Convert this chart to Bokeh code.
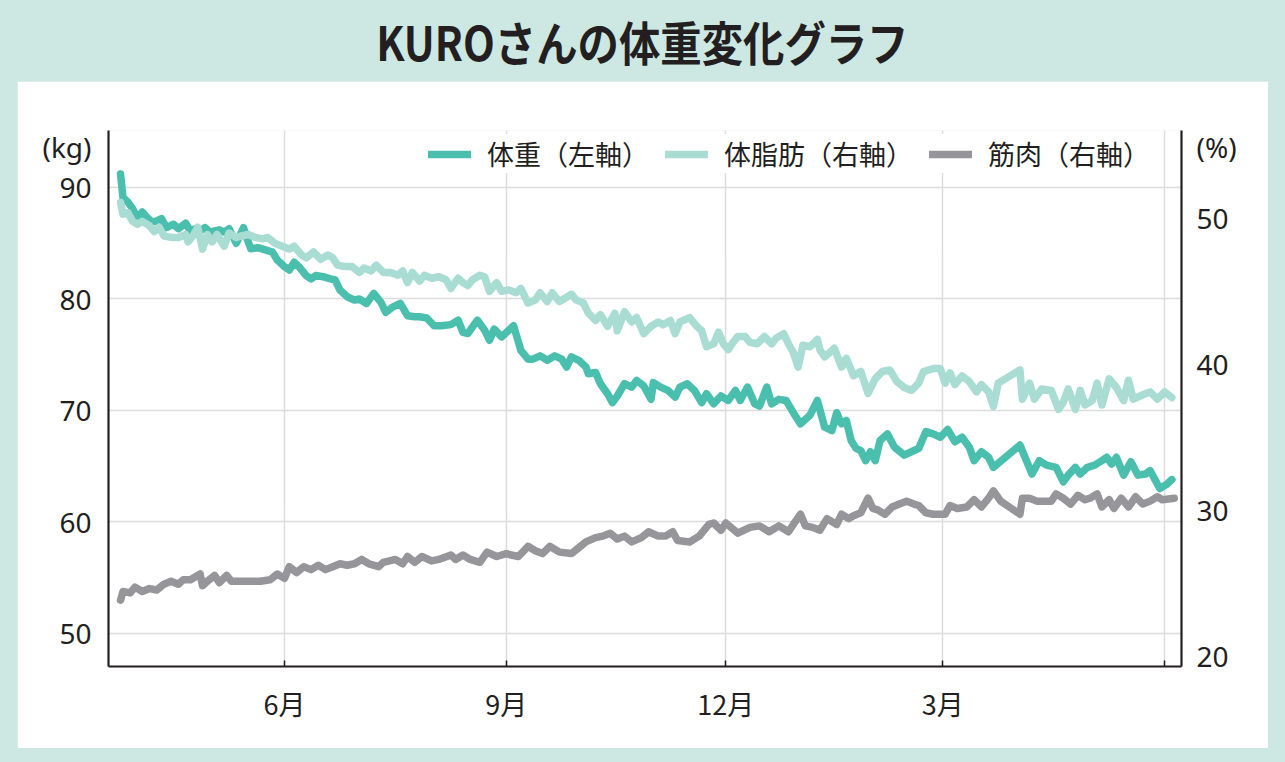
from bokeh.plotting import figure
from bokeh.models import (Range1d, LinearAxis, FixedTicker, Legend, LegendItem, Div)
from bokeh.layouts import column
from bokeh.embed import file_html
from bokeh.resources import INLINE

FONT = "Noto Sans CJK JP"
NUM_FONT = "Noto Sans"
INK = "#231f20"
MINT = "#cde8e2"
C_W = "#4bbfad"
C_F = "#a9ddd4"
C_M = "#96969a"

TITLE = "KUROさんの体重変化グラフ"
LEG_W = "体重（左軸）"
LEG_F = "体脂肪（右軸）"
LEG_M = "筋肉（右軸）"
UNIT_L = "(kg)"
UNIT_R = "(%)"

# x = days from June 1
month_ticks = [0, 92, 183, 273, 365]
month_labels = ["6月", "9月", "12月", "3月", ""]
kg_ticks = [50, 60, 70, 80, 90]
pct_ticks = [20, 30, 40, 50]
kg_unit_pos = 93.6
pct_unit_pos = 54.9

# 体重 (kg, left axis)
w_day = [-68, -67, -65, -63, -61, -59, -57, -55, -53, -51, -49, -46, -44, -41, -39, -37, -35, -33, -31, -29,
         -27, -25, -23, -20, -17, -16, -14, -11, -8, -5, -3, 0, 2, 4, 6, 9, 11, 13, 16, 19,
         21, 23, 26, 29, 31, 34, 37, 40, 42, 45, 48, 51, 54, 56, 59, 62, 65, 69, 72, 74,
         76, 80, 83, 85, 87, 90, 92, 95, 98, 101, 103, 106, 109, 112, 115, 117, 119, 122, 125, 126,
         129, 131, 134, 136, 138, 141, 144, 146, 149, 152, 153, 156, 159, 162, 164, 167, 170, 173, 175, 178,
         181, 184, 187, 189, 192, 195, 197, 200, 202, 205, 208, 211, 214, 217, 218, 221, 224, 227, 229, 231,
         233, 235, 237, 239, 241, 243, 245, 247, 250, 253, 257, 260, 263, 266, 269, 272, 275, 278, 281, 284,
         286, 289, 292, 294, 305, 310, 313, 316, 320, 323, 325, 328, 330, 333, 336, 339, 341, 343, 345, 348,
         351, 354, 357, 359, 363, 366, 368]
w_kg = [91.2, 89.1, 88.7, 88.1, 87.2, 87.8, 87.3, 86.9, 87.0, 87.2, 86.4, 86.7, 86.3, 86.8, 86.1, 86.3, 86.1, 86.4, 86.0, 86.1,
        86.2, 86.0, 86.3, 85.0, 86.4, 85.7, 84.5, 84.6, 84.4, 84.2, 83.5, 82.9, 82.6, 83.3, 82.9, 82.1, 81.8, 82.1, 82.0, 81.8,
        81.7, 80.8, 80.2, 79.9, 80.0, 79.6, 80.5, 79.7, 78.8, 79.3, 79.6, 78.5, 78.4, 78.4, 78.3, 77.6, 77.6, 77.7, 78.1, 77.0,
        76.9, 78.1, 77.2, 76.3, 77.3, 76.6, 77.0, 77.6, 75.4, 74.6, 74.6, 74.9, 74.5, 74.9, 74.6, 73.9, 74.8, 74.5, 73.9, 73.3,
        73.4, 72.4, 71.5, 70.7, 71.3, 72.4, 72.1, 72.7, 72.2, 71.0, 72.5, 72.1, 71.8, 71.2, 72.1, 72.4, 71.8, 70.7, 71.5, 70.6,
        71.3, 70.9, 71.8, 70.9, 72.1, 70.6, 70.4, 72.1, 70.6, 71.0, 70.9, 69.8, 68.8, 69.4, 69.6, 70.9, 68.5, 68.2, 69.8, 68.8,
        69.1, 67.3, 66.6, 66.4, 65.5, 66.3, 65.5, 67.3, 67.9, 66.7, 66.0, 66.3, 66.6, 68.1, 67.9, 67.6, 68.3, 67.2, 67.6, 66.7,
        65.5, 66.3, 65.8, 64.9, 66.9, 64.3, 65.5, 65.1, 64.9, 63.6, 64.2, 64.9, 64.3, 64.9, 65.1, 65.5, 65.8, 65.2, 65.8, 64.2,
        65.4, 64.2, 64.3, 64.6, 63.0, 63.4, 63.8]

# 体脂肪 (%, right axis)
f_day = [-68, -67, -65, -63, -61, -59, -56, -54, -52, -50, -47, -44, -41, -40, -38, -36, -34, -32, -30, -28,
         -25, -23, -20, -18, -15, -12, -9, -7, -4, -1, 2, 4, 7, 9, 12, 15, 18, 20, 22, 25,
         28, 31, 33, 36, 38, 41, 44, 47, 49, 51, 53, 56, 58, 61, 64, 67, 69, 72, 74, 76,
         78, 81, 83, 85, 88, 90, 93, 96, 98, 101, 104, 106, 109, 111, 114, 117, 119, 121, 124, 126,
         129, 131, 134, 137, 138, 141, 144, 146, 149, 152, 155, 157, 160, 162, 164, 168, 171, 173, 175, 178,
         180, 182, 184, 186, 188, 191, 193, 196, 199, 202, 204, 207, 209, 211, 213, 215, 218, 221, 222, 224,
         228, 231, 233, 236, 239, 242, 245, 248, 251, 254, 257, 260, 263, 265, 269, 272, 274, 276, 278, 281,
         284, 287, 289, 292, 294, 296, 305, 306, 309, 311, 314, 318, 321, 323, 325, 328, 330, 332, 335, 337,
         339, 342, 345, 348, 350, 352, 356, 359, 362, 365, 368]
f_pct = [51.1, 50.3, 50.4, 49.8, 49.6, 49.8, 49.5, 49.1, 49.4, 48.8, 48.7, 48.7, 48.9, 48.4, 48.8, 49.4, 47.9, 48.9, 48.4, 48.9,
         48.1, 49.0, 48.7, 48.8, 48.9, 48.7, 48.6, 48.7, 48.3, 48.1, 47.9, 48.1, 47.5, 47.3, 47.7, 47.2, 47.5, 47.3, 46.8, 46.7,
         46.7, 46.3, 46.6, 46.4, 46.8, 46.3, 46.3, 46.1, 46.4, 45.6, 46.3, 45.7, 46.1, 45.9, 46.0, 45.8, 45.2, 45.9, 45.6, 45.4,
         45.8, 46.1, 46.0, 45.0, 45.6, 45.0, 45.1, 44.9, 45.2, 44.2, 44.4, 44.9, 44.3, 44.9, 44.3, 44.6, 44.8, 44.4, 44.2, 43.5,
         43.0, 43.4, 42.6, 43.5, 42.3, 43.6, 42.9, 43.2, 42.1, 42.6, 42.9, 42.7, 43.0, 42.1, 42.9, 43.2, 42.6, 42.3, 41.2, 41.4,
         42.2, 41.4, 41.0, 41.5, 41.9, 41.9, 41.5, 41.4, 41.9, 41.4, 41.8, 42.1, 41.4, 40.8, 39.8, 41.3, 41.2, 41.7, 41.0, 40.5,
         41.1, 39.8, 40.4, 39.2, 39.5, 38.0, 39.0, 39.5, 39.6, 38.8, 38.4, 38.2, 38.7, 39.5, 39.7, 39.7, 38.7, 39.4, 38.6, 39.2,
         38.8, 38.1, 38.6, 38.1, 37.1, 38.7, 39.6, 37.6, 38.7, 37.6, 38.3, 38.2, 36.9, 37.4, 38.3, 36.9, 38.2, 37.2, 37.5, 38.7,
         37.2, 39.0, 38.4, 37.5, 38.9, 37.6, 37.9, 38.1, 37.6, 38.1, 37.7]

# 筋肉 (%, right axis)
m_day = [-68, -67, -64, -62, -59, -56, -53, -50, -47, -44, -42, -39, -35, -34, -32, -29, -27, -24, -22, -16,
         -10, -6, -3, 0, 2, 5, 8, 11, 14, 17, 20, 23, 26, 29, 32, 35, 39, 41, 46, 49,
         51, 54, 57, 61, 64, 69, 71, 74, 77, 81, 84, 88, 92, 94, 97, 101, 104, 107, 110, 114,
         119, 122, 125, 129, 132, 135, 138, 141, 144, 148, 151, 155, 158, 161, 163, 168, 172, 176, 178, 181,
         183, 188, 193, 197, 201, 205, 209, 211, 214, 216, 219, 222, 225, 229, 231, 234, 236, 239, 242, 244,
         246, 249, 252, 255, 258, 261, 263, 266, 269, 274, 276, 279, 283, 286, 289, 292, 294, 297, 305, 306,
         309, 312, 318, 320, 323, 326, 329, 332, 334, 337, 339, 342, 344, 347, 350, 353, 356, 359, 362, 364,
         369]
m_pct = [23.8, 24.4, 24.3, 24.7, 24.4, 24.6, 24.5, 24.9, 25.1, 24.9, 25.2, 25.2, 25.6, 24.8, 25.1, 25.5, 25.0, 25.5, 25.1, 25.1,
         25.1, 25.2, 25.6, 25.3, 26.1, 25.7, 26.1, 25.9, 26.2, 25.9, 26.1, 26.3, 26.2, 26.3, 26.6, 26.3, 26.1, 26.4, 26.6, 26.3,
         26.8, 26.4, 26.8, 26.5, 26.6, 26.9, 26.6, 26.9, 26.6, 26.4, 27.1, 26.8, 27.0, 26.9, 26.8, 27.5, 27.2, 27.0, 27.5, 27.1,
         27.0, 27.4, 27.8, 28.1, 28.2, 28.4, 28.0, 28.2, 27.8, 28.1, 28.5, 28.2, 28.2, 28.5, 27.9, 27.8, 28.2, 29.0, 29.1, 28.6,
         29.1, 28.4, 28.8, 28.9, 28.5, 28.9, 28.5, 29.0, 29.7, 28.9, 28.8, 28.6, 29.4, 29.0, 29.7, 29.4, 29.6, 29.8, 30.8, 30.1,
         30.0, 29.7, 30.2, 30.4, 30.6, 30.4, 30.3, 29.8, 29.7, 29.7, 30.3, 30.1, 30.2, 30.7, 30.2, 30.8, 31.3, 30.6, 29.7, 30.8,
         30.8, 30.6, 30.6, 31.1, 30.8, 30.4, 31.0, 30.7, 30.8, 31.1, 30.2, 30.7, 30.1, 30.8, 30.2, 30.9, 30.4, 30.6, 30.9, 30.7,
         30.8]

p = figure(width=1251, height=667, output_backend="svg", toolbar_location=None,
           x_range=Range1d(-73, 372), y_range=Range1d(47.04, 95.11),
           min_border_left=91, min_border_right=87, min_border_top=49, min_border_bottom=82,
           background_fill_color="white", border_fill_color="white", outline_line_color=None)
p.margin = (0, 17, 14, 17)
p.extra_y_ranges = {"pct": Range1d(19.25, 56.04)}

left = p.yaxis[0]
bottom = p.xaxis[0]
right = LinearAxis(y_range_name="pct")
p.add_layout(right, "right")

left.ticker = FixedTicker(ticks=kg_ticks + [kg_unit_pos])
left.major_label_overrides = {**{t: str(t) for t in kg_ticks}, kg_unit_pos: UNIT_L}
right.ticker = FixedTicker(ticks=pct_ticks + [pct_unit_pos])
right.major_label_overrides = {**{t: str(t) for t in pct_ticks}, pct_unit_pos: UNIT_R}
bottom.ticker = FixedTicker(ticks=month_ticks)
bottom.major_label_overrides = {t: l for t, l in zip(month_ticks, month_labels)}

for ax in (left, bottom, right):
    ax.axis_line_color = INK
    ax.axis_line_width = 2.2
    ax.major_label_text_font = NUM_FONT
    ax.major_label_text_color = INK
    ax.major_label_text_font_size = "28px"
    ax.minor_tick_line_color = None
    ax.major_tick_in = 6
    ax.major_tick_out = 0
    ax.major_tick_line_color = INK
    ax.major_tick_line_width = 1.5
    ax.major_label_standoff = 17
left.major_tick_line_color = None
right.major_tick_line_color = None
right.major_label_standoff = 15
bottom.major_label_text_font = FONT
bottom.major_label_text_font_size = "27px"

p.xgrid.ticker = FixedTicker(ticks=month_ticks)
p.ygrid.ticker = FixedTicker(ticks=kg_ticks)
p.grid.grid_line_color = "#dcdcdc"
p.grid.grid_line_width = 1.5

rm = p.line(m_day, m_pct, y_range_name="pct", line_color=C_M, line_width=7.5,
            line_cap="round", line_join="round")
rw = p.line(w_day, w_kg, line_color=C_W, line_width=7.5,
            line_cap="round", line_join="round")
rf = p.line(f_day, f_pct, y_range_name="pct", line_color=C_F, line_width=7.5,
            line_cap="round", line_join="round")

legend = Legend(items=[LegendItem(label=LEG_W, renderers=[rw]),
                       LegendItem(label=LEG_F, renderers=[rf]),
                       LegendItem(label=LEG_M, renderers=[rm])],
                orientation="horizontal", location=(320, 493),
                label_text_font=FONT, label_text_font_size="27px", label_text_color=INK,
                glyph_width=43, glyph_height=20, label_standoff=16, spacing=16,
                padding=4, margin=0, border_line_color=None,
                background_fill_color="white", background_fill_alpha=1.0)
p.add_layout(legend)

title = Div(text=('<div style="display:flex;align-items:center;justify-content:center;'
                  'width:1285px;height:81px;">'
                  '<span style="display:inline-block;transform:scaleX(0.88);'
                  'font-family:\'Noto Sans CJK JP\';font-size:47px;font-weight:600;'
                  'color:#231f20;white-space:nowrap;">' + TITLE + '</span></div>'),
            width=1285, height=81, margin=(0, 0, 0, 0))

layout = column(title, p, styles={"background-color": MINT})

html = file_html(layout, INLINE, title=TITLE)
html = html.replace("<body>", '<body style="margin:0;background:#cde8e2;">', 1)
open("out.html", "w").write(html)
